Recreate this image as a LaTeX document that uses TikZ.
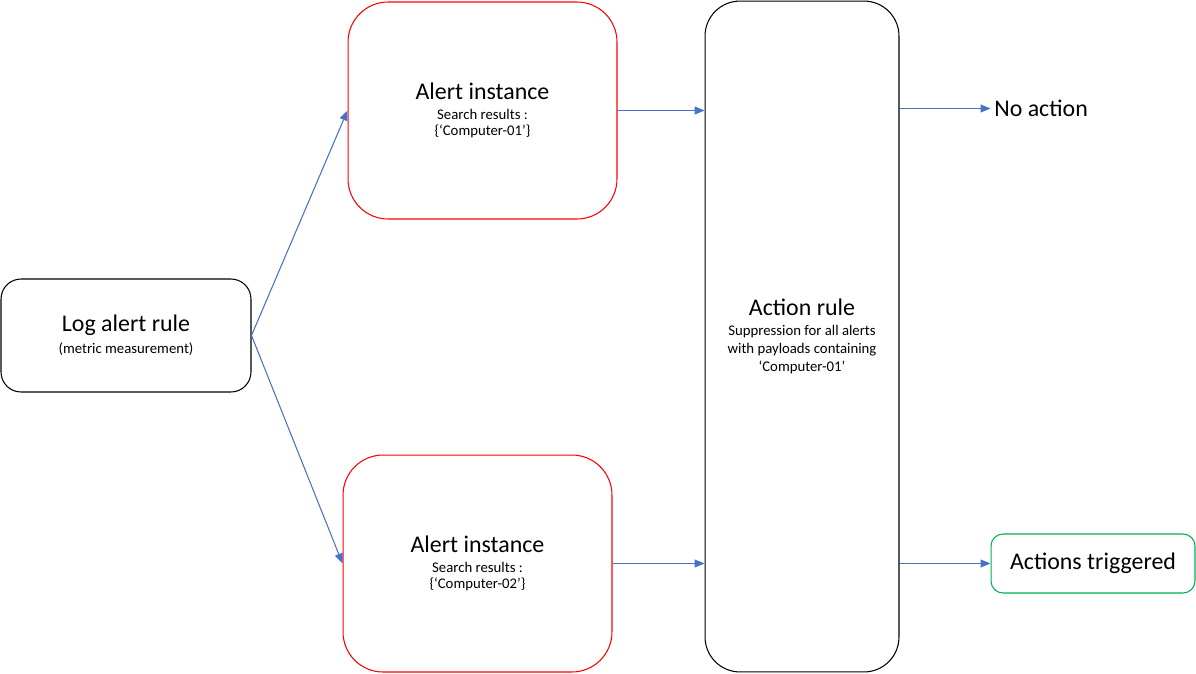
\documentclass[tikz,border=0pt]{standalone}
\usepackage{fontspec}
\setmainfont{Carlito}
\usetikzlibrary{arrows.meta,calc,positioning}
\definecolor{flowblue}{HTML}{4472C4}
\definecolor{boxred}{HTML}{FF0000}
\definecolor{boxgreen}{HTML}{00B050}
\newcommand{\bigtxt}{\fontsize{13.6}{16}\selectfont}
\newcommand{\smalltxt}{\fontsize{8.4}{9.4}\selectfont}
\tikzset{
  node-rule/.style={draw,black,rounded corners=0.4cm,line width=0.6pt,align=center,inner sep=0pt,font=\smalltxt},
  node-inst/.style={draw,boxred,rounded corners=0.8cm,line width=0.6pt,align=center,inner sep=0pt,
    minimum width=5.38cm,minimum height=4.34cm,text=black,font=\smalltxt},
  node-act/.style={draw,black,rounded corners=0.7cm,line width=0.6pt,align=center,inner sep=0pt,
    minimum width=3.88cm,minimum height=13.42cm,font=\smalltxt},
  node-out/.style={draw,boxgreen,rounded corners=0.24cm,line width=0.6pt,inner sep=0pt,
    minimum width=4.08cm,minimum height=1.18cm,text=black,font=\bigtxt},
  flow/.style={-{Triangle[length=2mm,width=1.6mm]},line width=0.6pt,flowblue},
}

\begin{document}
\begin{tikzpicture}[x=0.02cm,y=-0.02cm]
  \useasboundingbox (0,0) rectangle (1196,673);

  % source rule
  \node[node-rule,minimum width=5cm,minimum height=2.26cm] (logrule) at (126,335.5)
    {{\bigtxt Log alert rule}\\[3pt](metric measurement)};

  % alert instances
  \node[node-inst] (inst1) at (482.5,110.5)
    {{\bigtxt Alert instance}\\[2pt]Search results :\\\{‘Computer-01’\}};
  \node[node-inst] (inst2) at (477.5,563.5)
    {{\bigtxt Alert instance}\\[2pt]Search results :\\\{‘Computer-02’\}};
  \draw[flow] (logrule.east) -- (inst1.west);
  \draw[flow] (logrule.east) -- (inst2.west);

  % action rule
  \node[node-act] (actrule) at (802,336.5)
    {{\bigtxt Action rule}\\[2pt]Suppression for all alerts\\[1pt]with payloads containing\\[1pt]‘Computer-01’};
  \draw[flow] (inst1.east) -- (inst1.east -| actrule.west);
  \draw[flow] (inst2.east) -- (inst2.east -| actrule.west);

  % outcomes
  \node[anchor=west,inner sep=0pt,font=\bigtxt] (noact) at (994,108.5) {No action};
  \node[node-out] (trig) at (1093,563.5) {Actions triggered};
  \draw[flow] (actrule.east |- noact.west) -- ([xshift=-2pt]noact.west);
  \draw[flow] (actrule.east |- trig.west) -- (trig.west);

\end{tikzpicture}
\end{document}
